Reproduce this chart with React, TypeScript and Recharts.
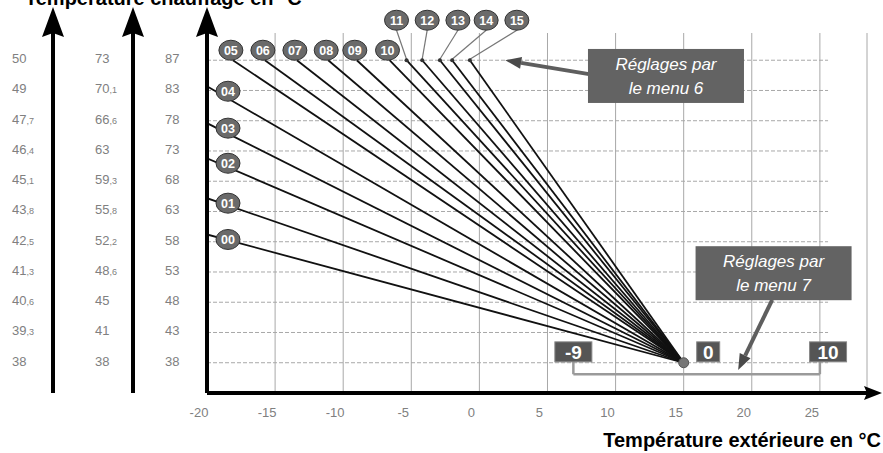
import React from "react";
import {
  LineChart,
  Line,
  XAxis,
  YAxis,
  CartesianGrid,
  ReferenceLine,
  ReferenceDot,
} from "recharts";

// outside temperature ticks
const X_TICKS = [-20, -15, -10, -5, 0, 5, 10, 15, 20, 25];
// row positions shared by the three scales (top row is labelled 87)
const Y_TICKS = [38, 43, 48, 53, 58, 63, 68, 73, 78, 83, 88];
const MAIN_LABELS = ["38", "43", "48", "53", "58", "63", "68", "73", "78", "83", "87"];
const MID_LABELS = ["38", "41", "45", "48,6", "52,2", "55,8", "59,3", "63", "66,6", "70,1", "73"];
const LEFT_LABELS = ["38", "39,3", "40,6", "41,3", "42,5", "43,8", "45,1", "46,4", "47,7", "49", "50"];

// heating curves: start point, all meet at the foot point
const CURVE_IDS = ["00", "01", "02", "03", "04", "05", "06", "07", "08", "09", "10", "11", "12", "13", "14", "15"];
const START_X = [-20, -20, -20, -20, -20, -18.1, -15.75, -13.4, -11.1, -9.0, -6.6, -5.35, -4.2, -2.9, -2.0, -0.7];
const START_Y = [59.2, 65.2, 71.8, 77.6, 83.7, 88, 88, 88, 88, 88, 88, 88, 88, 88, 88, 88];
const FOOT_X = 15;
const FOOT_Y = 38;

// menu 7 shift range
const SHIFT_LABELS = ["-9", "0", "10"];
const SHIFT_X = [6.9, 16.8, 25.6];

const FONT = "'Liberation Sans', Arial, Helvetica, sans-serif";
const GRID = "#a8a8a8";
const TICK_GRAY = "#808080";

// annotation anchors (data units)
const MENU6 = { x: 13.7, y: 85.4 };
const MENU7 = { x: 21.6, y: 52.8 };
const ARROW6 = [{ x: 8.05, y: 85.7 }, { x: 1.9, y: 88 }];
const ARROW7 = [{ x: 21.5, y: 48.4 }, { x: 19.0, y: 36.8 }];
const BRACKET_Y = 36.1;
const BRACKET_X = [6.9, 25.0];
const SHIFT_Y = 39.8;
const TOP_ROW_DX = [-10, 5, 18, 34, 47];

const num = (s: string) => {
  const [a, b] = s.split(",");
  if (!b) return a;
  return (
    <>
      {a}
      <tspan fontSize={9}>,{b}</tspan>
    </>
  );
};

const yTick = (labels: string[], off: number) => (props: any) => {
  const { x, y, payload } = props;
  const i = Y_TICKS.indexOf(payload.value);
  if (i < 0) return null;
  return (
    <text x={x - off} y={y + 3} textAnchor="start" fill={TICK_GRAY} fontSize={13} fontFamily={FONT}>
      {num(labels[i])}
    </text>
  );
};

const xTick = (props: any) => {
  const { x, y, payload } = props;
  return (
    <text x={x - 8} y={y + 24} textAnchor="middle" fill={TICK_GRAY} fontSize={13} fontFamily={FONT}>
      {payload.value}
    </text>
  );
};

const Bubble = ({ x, y, text }: { x: number; y: number; text: string }) => (
  <g>
    <ellipse cx={x} cy={y} rx={12} ry={10} fill="#6a6a6a" stroke="#333" strokeWidth={1} />
    <text x={x} y={y + 4.5} textAnchor="middle" fill="#fff" fontSize={12.5} fontWeight="bold" fontFamily={FONT}>
      {text}
    </text>
  </g>
);

const curveTag = (i: number) => (p: any) => {
  const { cx, cy } = p;
  if (i < 5) return <Bubble x={cx + 21} y={cy + 5} text={CURVE_IDS[i]} />;
  if (i < 11) return <Bubble x={cx - 2} y={cy - 10} text={CURVE_IDS[i]} />;
  const bx = cx + TOP_ROW_DX[i - 11];
  const by = cy - 40;
  return (
    <g>
      <line x1={bx} y1={by + 10} x2={cx} y2={cy - 1} stroke="#777" strokeWidth={1.2} />
      <circle cx={cx} cy={cy} r={2} fill="#333" />
      <Bubble x={bx} y={by} text={CURVE_IDS[i]} />
    </g>
  );
};

const menuBox = (lines: string[]) => (p: any) => {
  const { cx, cy } = p;
  return (
    <g>
      <rect x={cx - 78} y={cy - 27} width={156} height={54} fill="#636363" />
      {lines.map((t, k) => (
        <text
          key={k}
          x={cx}
          y={cy - 6 + k * 24}
          textAnchor="middle"
          fill="#fff"
          fontSize={17}
          fontStyle="italic"
          fontFamily={FONT}
        >
          {t}
        </text>
      ))}
    </g>
  );
};

const shiftBox = (text: string) => (p: any) => {
  const { cx, cy } = p;
  const w = text.length > 1 ? 37 : 23;
  return (
    <g>
      <rect x={cx - w / 2} y={cy - 10} width={w} height={20} fill="#555" stroke="#888" strokeWidth={1} />
      <text x={cx} y={cy + 7} textAnchor="middle" fill="#fff" fontSize={19} fontWeight="bold" fontFamily={FONT}>
        {text}
      </text>
    </g>
  );
};

const arrowShape = (p: any) => {
  const { x1, y1, x2, y2 } = p;
  const ang = Math.atan2(y2 - y1, x2 - x1);
  const L = 16;
  const W = 6;
  const bx = x2 - L * Math.cos(ang);
  const by = y2 - L * Math.sin(ang);
  const px = -Math.sin(ang) * W;
  const py = Math.cos(ang) * W;
  return (
    <g>
      <line x1={x1} y1={y1} x2={bx} y2={by} stroke="#5e5e5e" strokeWidth={4} />
      <polygon points={`${x2},${y2} ${bx + px},${by + py} ${bx - px},${by - py}`} fill="#4a4a4a" />
    </g>
  );
};

const Y_DOMAIN: [number, number] = [33, 92.5];
const UP_ARROW_LINE = { stroke: "#000", strokeWidth: 4, markerStart: "url(#arrowUp)" };

export default function App() {
  return (
    <div style={{ position: "absolute", left: 0, top: 0 }}>
      <LineChart width={883} height={453} margin={{ top: 33, right: 16, bottom: 0, left: 0 }}>
        <defs>
          <marker
            id="arrowUp"
            markerUnits="userSpaceOnUse"
            markerWidth={30}
            markerHeight={22}
            viewBox="0 0 30 22"
            refX={4}
            refY={11}
            orient="auto-start-reverse"
          >
            <path d="M0,0 L30,11 L0,22 L4,11 z" fill="#000" />
          </marker>
          <marker
            id="arrowRight"
            markerUnits="userSpaceOnUse"
            markerWidth={18}
            markerHeight={14}
            viewBox="0 0 18 14"
            refX={3}
            refY={7}
            orient="auto"
          >
            <path d="M0,0 L18,7 L0,14 L3,7 z" fill="#000" />
          </marker>
        </defs>

        <XAxis
          type="number"
          dataKey="x"
          domain={[-20, 28.46]}
          ticks={X_TICKS}
          interval={0}
          allowDataOverflow
          height={60}
          tickSize={0}
          tickMargin={0}
          tickLine={false}
          tick={xTick}
          axisLine={{ stroke: "#000", strokeWidth: 4, markerEnd: "url(#arrowRight)" }}
        />
        {/* ids sort so that "a" sits next to the plot, "c" is outermost */}
        <YAxis
          yAxisId="a"
          type="number"
          domain={Y_DOMAIN}
          ticks={Y_TICKS}
          interval={0}
          allowDataOverflow
          width={74}
          tickSize={0}
          tickMargin={0}
          tickLine={false}
          tick={yTick(MAIN_LABELS, 42)}
          axisLine={UP_ARROW_LINE}
        />
        <YAxis
          yAxisId="b"
          type="number"
          domain={Y_DOMAIN}
          ticks={Y_TICKS}
          interval={0}
          allowDataOverflow
          width={80}
          tickSize={0}
          tickMargin={0}
          tickLine={false}
          tick={yTick(MID_LABELS, 38)}
          axisLine={UP_ARROW_LINE}
        />
        <YAxis
          yAxisId="c"
          type="number"
          domain={Y_DOMAIN}
          ticks={Y_TICKS}
          interval={0}
          allowDataOverflow
          width={53}
          tickSize={0}
          tickMargin={0}
          tickLine={false}
          tick={yTick(LEFT_LABELS, 41)}
          axisLine={UP_ARROW_LINE}
        />

        <CartesianGrid yAxisId="a" horizontal={false} stroke={GRID} strokeWidth={1} />
        {Y_TICKS.map((t) => (
          <ReferenceLine
            key={t}
            yAxisId="a"
            segment={[{ x: -20, y: t }, { x: 25.6, y: t }]}
            stroke={GRID}
            strokeDasharray="4 2"
          />
        ))}

        {CURVE_IDS.map((id, i) => (
          <Line
            key={id}
            yAxisId="a"
            type="linear"
            data={[
              { x: START_X[i], y: START_Y[i] },
              { x: FOOT_X, y: FOOT_Y },
            ]}
            dataKey="y"
            stroke="#111"
            strokeWidth={1.8}
            dot={false}
            activeDot={false}
            isAnimationActive={false}
          />
        ))}

        {CURVE_IDS.map((id, i) => (
          <ReferenceDot
            key={"tag" + id}
            yAxisId="a"
            x={START_X[i]}
            y={START_Y[i]}
            r={0}
            ifOverflow="visible"
            shape={curveTag(i)}
          />
        ))}

        <ReferenceDot yAxisId="a" x={FOOT_X} y={FOOT_Y} r={5} fill="#777" stroke="#555" ifOverflow="visible" />

        {/* menu 7 bracket */}
        <ReferenceLine
          yAxisId="a"
          segment={[{ x: BRACKET_X[0], y: BRACKET_Y }, { x: BRACKET_X[1], y: BRACKET_Y }]}
          stroke="#9a9a9a"
          strokeWidth={2.5}
        />
        {BRACKET_X.map((bx) => (
          <ReferenceLine
            key={"br" + bx}
            yAxisId="a"
            segment={[{ x: bx, y: BRACKET_Y }, { x: bx, y: SHIFT_Y }]}
            stroke="#9a9a9a"
            strokeWidth={2.5}
          />
        ))}
        {SHIFT_LABELS.map((t, k) => (
          <ReferenceDot
            key={"sh" + t}
            yAxisId="a"
            x={SHIFT_X[k]}
            y={SHIFT_Y}
            r={0}
            ifOverflow="visible"
            shape={shiftBox(t)}
          />
        ))}

        <ReferenceLine yAxisId="a" segment={ARROW6} shape={arrowShape} />
        <ReferenceLine yAxisId="a" segment={ARROW7} shape={arrowShape} />
        <ReferenceDot
          yAxisId="a"
          x={MENU6.x}
          y={MENU6.y}
          r={0}
          ifOverflow="visible"
          shape={menuBox(["Réglages par", "le menu 6"])}
        />
        <ReferenceDot
          yAxisId="a"
          x={MENU7.x}
          y={MENU7.y}
          r={0}
          ifOverflow="visible"
          shape={menuBox(["Réglages par", "le menu 7"])}
        />

        <text x={25} y={5} fontSize={20} fontWeight="bold" fontFamily={FONT} fill="#000">
          Température chauffage en °C
        </text>
        <text x={881} y={447} textAnchor="end" fontSize={20} fontWeight="bold" fontFamily={FONT} fill="#000">
          Température extérieure en °C
        </text>
      </LineChart>
    </div>
  );
}
